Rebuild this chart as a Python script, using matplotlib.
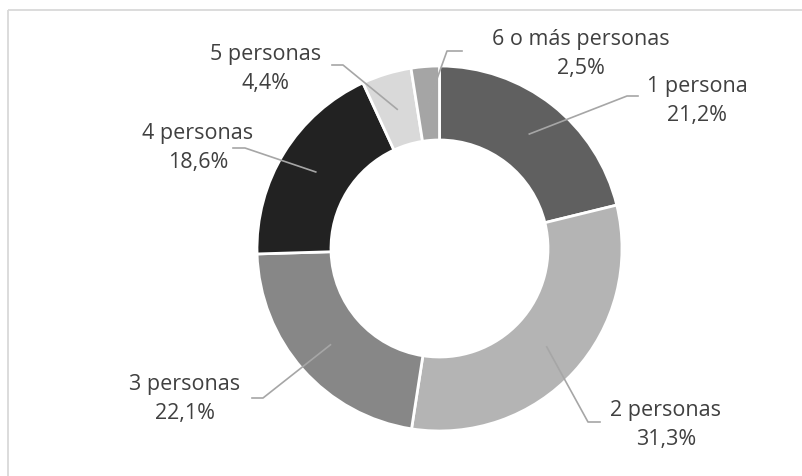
import numpy as np
import matplotlib.pyplot as plt

plt.rcParams['font.family'] = ['Open Sans', 'DejaVu Sans']

# household size distribution
categories = ["1 persona", "2 personas", "3 personas", "4 personas",
              "5 personas", "6 o más personas"]
shares = [21.2, 31.3, 22.1, 18.6, 4.4, 2.5]
colors = ["#606060", "#b4b4b4", "#878787", "#222222", "#d9d9d9", "#a5a5a5"]

# label block centres and leader elbows (pixel layout, y from top)
label_pos = [(697, 101), (666, 425), (185, 399), (198, 148), (266, 69), (581, 54)]
elbows = [[(627, 97), (638, 97)],
          [(588, 423), (600, 423)],
          [(263, 399), (252, 399)],
          [(245, 149), (233, 149)],
          [(343, 66), (332, 66)],
          [(447, 52), (462, 52)]]

W, H = 803, 477
cx, cy = 439.5, H - 249.5
r_out, r_in = 182.5, 108.5

fig = plt.figure(figsize=(W / 100, H / 100), dpi=100)
ax = fig.add_axes([0, 0, 1, 1])

ax.pie(shares, colors=colors, startangle=90, counterclock=False,
       radius=r_out, center=(cx, cy),
       wedgeprops=dict(width=r_out - r_in, edgecolor="white", linewidth=2))

ax.set_xlim(0, W)
ax.set_ylim(0, H)
ax.set_aspect("equal")
ax.axis("off")

# outer chart border (clipped at right and bottom)
ax.plot([8, W], [H - 11, H - 11], color="#d9d9d9", lw=1.3, solid_capstyle="butt")
ax.plot([8, 8], [H - 11, 0], color="#d9d9d9", lw=1.3, solid_capstyle="butt")

cum = np.cumsum([0] + shares[:-1])
total = sum(shares)
r_mid = (r_out + r_in) / 2
for name, val, start, (lx, ly), elb in zip(categories, shares, cum, label_pos, elbows):
    ang = np.deg2rad((start + val / 2) / total * 360)
    px = cx + r_mid * np.sin(ang)
    py = cy + r_mid * np.cos(ang)
    xs = [px] + [e[0] for e in elb]
    ys = [py] + [H - e[1] for e in elb]
    ax.plot(xs, ys, color="#a6a6a6", lw=1.2)
    text = f"{name}\n{val:.1f}%".replace(".", ",")
    ax.text(lx, H - ly, text, ha="center", va="center", fontsize=15.5,
            color="#404040", linespacing=1.5)

fig.savefig("out.png", dpi=100)
